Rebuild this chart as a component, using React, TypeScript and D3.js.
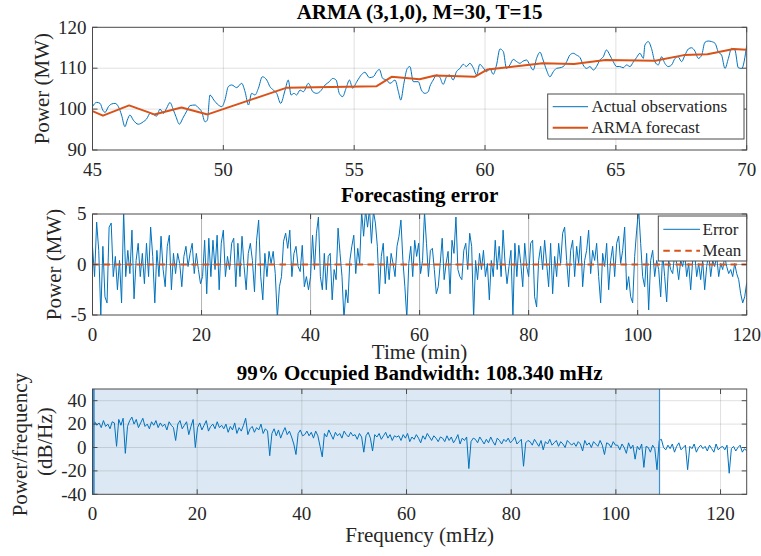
import React from 'react';
import * as d3 from 'd3';

const W = 761, H = 556;
const FONT = '"Liberation Serif","Times New Roman",Times,serif';
const BLUE = '#0072BD';
const ORANGE = '#D95319';
const TXT = '#262626';

// ---------- Panel 1: actual observations vs ARMA forecast ----------
const topTimes = [45.0,45.16,45.29,45.39,45.48,45.61,45.73,45.86,45.99,46.11,46.24,46.33,46.43,46.56,46.75,46.94,47.07,47.20,47.32,47.45,47.58,47.71,47.83,47.96,48.09,48.19,48.32,48.45,48.60,48.73,48.92,49.04,49.17,49.30,49.39,49.49,49.64,49.81,49.94,50.06,50.19,50.32,50.51,50.70,50.83,50.96,51.08,51.21,51.34,51.49,51.66,51.78,51.91,52.04,52.19,52.36,52.48,52.59,52.70,52.80,52.93,53.06,53.25,53.42,53.57,53.69,53.89,54.05,54.18,54.31,54.43,54.56,54.69,54.82,54.94,55.10,55.29,55.41,55.58,55.73,55.86,55.96,56.09,56.24,56.37,56.56,56.69,56.78,56.90,57.03,57.13,57.26,
57.45,57.57,57.70,57.83,57.89,58.02,58.15,58.28,58.40,58.53,58.66,58.78,58.91,59.04,59.17,59.29,59.42,59.55,59.68,59.80,59.93,60.06,60.19,60.31,60.44,60.57,60.70,60.82,60.95,61.08,61.21,61.33,61.46,61.59,61.71,61.84,61.97,62.10,62.22,62.35,62.48,62.61,62.73,62.86,62.99,63.12,63.24,63.37,63.50,63.63,63.75,63.88,64.01,64.14,64.26,64.39,64.52,64.64,64.77,64.90,65.03,65.15,65.28,65.41,65.54,65.66,65.79,65.92,66.05,66.11,66.24,66.36,66.49,66.62,66.75,66.87,67.00,67.13,67.26,67.38,67.51,67.64,67.77,67.89,68.02,68.15,68.28,68.40,68.53,68.66,68.79,68.91,69.04,69.17,69.30,69.42,69.55,69.68,69.81,70.0];
const topPower = [100.6,101.65,101.4,99.8,99.2,100.6,101.25,101.4,100.6,98.55,95.7,97.3,98.55,97.3,96.3,96.9,97.6,98.95,98.7,98.3,100.0,98.95,100.2,101.6,99.8,98.15,96.3,97.75,99.5,100.85,101.0,100.35,99.4,96.9,97.3,103.45,102.2,101.0,100.6,102.2,105.5,105.9,105.25,106.3,104.25,101.0,103.85,103.45,105.1,107.9,107.1,105.5,104.65,103.85,101.4,104.65,107.1,103.45,103.85,103.45,104.65,104.25,106.3,104.25,103.85,104.25,105.9,106.7,107.5,107.1,103.85,103.05,105.1,107.1,105.1,106.7,108.5,109.0,107.7,107.9,109.15,109.7,107.5,107.1,106.3,107.1,104.25,102.2,106.3,109.95,110.4,106.7,
106.7,104.65,103.85,104.25,105.5,107.1,108.35,107.7,106.05,107.9,108.35,107.1,109.15,109.95,110.95,110.4,111.2,110.1,108.35,110.95,110.1,109.15,109.95,108.5,110.8,114.7,114.05,109.95,110.8,112.15,111.6,111.2,111.75,112.0,110.8,109.55,112.4,113.9,112.0,109.55,107.9,109.15,109.95,110.1,110.4,111.6,113.2,113.65,113.2,112.6,110.8,109.95,110.4,109.55,110.4,112.0,112.8,114.45,113.2,111.6,110.4,110.4,110.1,110.8,110.4,111.45,112.6,113.65,112.4,115.65,116.5,114.85,111.6,110.8,112.8,111.2,110.4,110.8,112.4,112.8,111.6,113.2,114.7,115.0,114.2,112.4,113.2,116.3,116.65,116.5,116.1,114.05,113.2,109.95,112.4,114.85,114.45,110.1,109.95,115.6];

const forecastTimes = [45, 45.4, 46.4, 47.36, 48.4, 49.4, 52.4, 55.86, 56.43, 57.5, 58.1, 59.6, 60.1, 62.2, 63.4, 64.6, 66.5, 67.6, 68.5, 69.5, 70];
const forecastPower = [99.5, 98.4, 100.9, 98.7, 100.4, 98.7, 105.2, 105.6, 107.9, 107.3, 108.2, 107.9, 109.7, 111.2, 111.0, 112.0, 111.8, 113.2, 113.4, 114.7, 114.5];

const topXTicks = [45, 50, 55, 60, 65, 70];
const topYTicks = [90, 100, 110, 120];

// ---------- Panel 2: forecasting error ----------
const errorSeg1 = [1.8,-1.2,4.2,1.4,-5.0,1.8,-3.2,-3.8,3.7,4.1,-1.2,0.8,-2.5,0.4,-3.8,5.3,-1.2,1.4,-0.9,3.4,-3.4,0.4,2.1,-1.2,1.1,-1.9,2.1,-1.2,3.7,0.8,-3.8,1.4,-1.2,2.8,-0.5,-2.2,1.8,2.9,-2.5,1.1,-0.9,1.1,0.1,-2.2,0.8,1.8,-0.2,1.1,2.1,-0.9,1.1,-0.5,-1.9,-1.2,2.4,-2.9,2.6,-1.2,2.4,-0.5,2.9,-2.5,2.1,3.4,-1.2,0.8,-0.5,2.1,2.6,-2.2,2.1,-1.2,2.8,-0.2,-2.5,1.1,2.1,0.4,-2.7,2.4,4.4,-1.2,-3.5,1.1,-1.2,1.3,0.1,1.3,-0.9,-5.3,-2.2,-1.2,2.3,3.1,1.6,3.4,-1.2,1.1,1.8,-0.2,-0.7,1.9,-2.2,-1.2,-2.5];
const errorSeg2 = [-1.2,2.9,-0.5,3.1,4.7,-1.2,-2.5,1.1,-2.5,0.8,1.1,-3.5,-0.5,-1.5,3.6,1.1,-1.2,-5.4,-2.5,-3.8,0.4,1.8,2.9,-0.9,1.6,0.1,5.3,2.8,5.4,3.7,5.5,2.1,5.3,4.1,1.8,-2.9,0.8,2.1,-1.9,0.8,-1.5,1.1,0.1,-1.2,1.8,2.8,4.4,0.4,-2.2,-5.3,0.1,1.8,-1.2,2.4,0.8,2.1,-0.9,0.4,5.2,2.1,-1.2,1.4,1.6,-0.5,-2.9,-2.2,0.1,2.6,-1.5,0.1,1.3,-2.9,2.4,1.1,4.7,-0.5,-1.2,-1.5,1.4,2.1,-0.5,3.1,1.8,-5.3,0.4,-1.5,1.1,-0.5,1.4,-1.2,0.1,-3.5,0.4,-1.2,2.4,-0.5,1.8,-1.2,3.4,0.1,-1.9,-0.2,1.4,-5.2,2.1,-1.2,1.9,0.1,-2.2,2.1,-0.2];
const errorSeg3 = [-1.2,2.1,2.4,-3.2,-4.2,0.4,1.8,-0.5,2.4,0.1,-2.2,2.1,-2.9,0.8,-1.2,2.1,0.1,3.1,3.7,0.4,-2.2,1.4,2.4,-1.2,1.8,0.1,2.8,-2.2,0.4,1.4,3.4,-0.9,1.4,0.4,2.1,-1.2,-3.8,1.1,-0.2,2.1,-2.5,0.4,1.8,-1.2,2.1,2.8,0.1,1.4,3.7,-2.5,-1.2,-3.2,-3.8,0.8,3.4,5.5,2.1,-1.2,-2.2,1.1,-4.5,0.4,1.4,-1.2,0.4,-0.5,-3.2,1.1,-1.2,-3.7,0.4,-0.5,-0.9,1.1,0.1,-1.5,0.4,-0.2,1.1,-1.2,0.1,-2.5,0.4,1.1,-1.2,0.1,-1.5,0.4,-2.5,-0.2,1.1,-1.2,0.4,-0.2,0.8,-1.2,0.1,-0.5,0.8,-0.2,-0.9,-0.5,-1.2,0.1,-0.9,-1.5,-2.9,-3.8,-3.2,-1.8];
const errorSegStarts = [0, 40, 80];
const errorSegEnds = [40, 80, 120];
const errorMean = 0;
const midXTicks = [0, 20, 40, 60, 80, 100, 120];
const midYTicks = [-5, 0, 5];

// ---------- Panel 3: occupied bandwidth PSD ----------
const psdValues = [
14,22,19,21,17,23,18,20,16,22,21,1,24,19,25,-5,18,23,26,20,
24,17,21,25,18,20,16,22,19,23,17,21,18,20,15,22,19,17,6,20,
23,16,19,22,11,18,24,0,17,21,15,19,23,14,18,20,16,22,17,19,
16,20,13,18,15,21,12,17,14,19,25,11,16,18,13,17,15,20,12,16,
14,-7,12,16,10,15,8,13,17,11,14,9,3,-6,12,15,10,11,14,10,
13,8,14,10,1,-8,12,9,15,11,7,13,10,12,8,14,11,9,13,10,
11,7,12,9,-4,10,13,8,-3,11,9,12,7,10,13,8,11,6,10,9,
10,6,11,8,12,5,9,7,11,8,4,10,7,12,9,6,10,8,5,9,
8,5,10,6,9,4,7,11,3,8,6,9,-18,5,8,7,4,9,6,3,
7,4,9,5,2,8,6,3,7,5,8,4,6,9,3,5,7,-16,4,6,
5,2,7,4,1,6,-2,5,3,7,2,4,6,1,5,3,0,6,4,2,
4,1,5,3,-3,6,2,4,0,5,3,1,6,2,-6,4,3,0,5,2,
2,-2,3,0,-5,4,-1,2,-10,1,-2,3,-17,1,0,-4,2,-1,-19,6,
7,0,-2,2,-1,3,-4,1,4,-2,0,2,-19,1,-1,3,-4,0,2,-1,
1,-3,2,-1,-4,3,-2,0,1,-2,2,-22,-1,1,-3,0,2,-4,-1,-3];
const psdFreqMax = 125;
const obwLow = 0;
const obwHigh = 108.34;
const botXTicks = [0, 20, 40, 60, 80, 100, 120];
const botYTicks = [-40, -20, 0, 20, 40];
const botGridY = [-20, 0, 20, 40];

// ---------- layout ----------
const L = 92.5, R = 746.7;
const P1 = { top: 27.3, bottom: 150 };
const P2 = { top: 214, bottom: 315 };
const P3 = { top: 389, bottom: 494.3 };

const TICK = 19, LAB = 21, LEG = 17;

function Frame({ x, y, gridX, gridY, gridColor, gridOpacity }: any) {
  const [y0, y1] = y.range();
  const top = Math.min(y0, y1), bottom = Math.max(y0, y1);
  return (
    <g>
      {gridX.map((v: number) => (
        <line key={'gx' + v} x1={x(v)} x2={x(v)} y1={top} y2={bottom} stroke={gridColor} strokeOpacity={gridOpacity} strokeWidth={1} />
      ))}
      {gridY.map((v: number) => (
        <line key={'gy' + v} x1={L} x2={R} y1={y(v)} y2={y(v)} stroke={gridColor} strokeOpacity={gridOpacity} strokeWidth={1} />
      ))}
    </g>
  );
}

function Box({ x, y, xTicks, yTicks }: any) {
  const [y0, y1] = y.range();
  const top = Math.min(y0, y1), bottom = Math.max(y0, y1);
  const tl = 5;
  return (
    <g>
      <rect x={L} y={top} width={R - L} height={bottom - top} fill="none" stroke="#4a4a4a" strokeWidth={1} />
      {xTicks.map((v: number) => (
        <g key={'xt' + v}>
          <line x1={x(v)} x2={x(v)} y1={bottom} y2={bottom - tl} stroke="#4a4a4a" />
          <line x1={x(v)} x2={x(v)} y1={top} y2={top + tl} stroke="#4a4a4a" />
          <text x={x(v)} y={bottom + 26} textAnchor="middle" fontSize={TICK} fill={TXT} fontFamily={FONT}>{v}</text>
        </g>
      ))}
      {yTicks.map((v: number) => (
        <g key={'yt' + v}>
          <line x1={L} x2={L + tl} y1={y(v)} y2={y(v)} stroke="#4a4a4a" />
          <line x1={R} x2={R - tl} y1={y(v)} y2={y(v)} stroke="#4a4a4a" />
          <text x={L - 6} y={y(v)} dy="0.33em" textAnchor="end" fontSize={TICK} fill={TXT} fontFamily={FONT}>{v}</text>
        </g>
      ))}
    </g>
  );
}

export default function App() {
  const x1 = d3.scaleLinear().domain([45, 70]).range([L, R]);
  const y1 = d3.scaleLinear().domain([90, 120]).range([P1.bottom, P1.top]);
  const x2 = d3.scaleLinear().domain([0, 120]).range([L, R]);
  const y2 = d3.scaleLinear().domain([-5, 5]).range([P2.bottom, P2.top]);
  const x3 = d3.scaleLinear().domain([0, psdFreqMax]).range([L, R]);
  const y3 = d3.scaleLinear().domain([-40, 50]).range([P3.bottom, P3.top]);

  const actual = topTimes.map((t, i) => [t, topPower[i]] as [number, number]);
  const forecast = forecastTimes.map((t, i) => [t, forecastPower[i]] as [number, number]);

  const segs = [errorSeg1, errorSeg2, errorSeg3];
  const errorPts: [number, number][] = [];
  segs.forEach((seg, k) => {
    const n = seg.length;
    const last = k === segs.length - 1;
    const step = (errorSegEnds[k] - errorSegStarts[k]) / (last ? n - 1 : n);
    seg.forEach((v, i) => errorPts.push([errorSegStarts[k] + i * step, v]));
  });

  const psdPts = psdValues.map((v, i) => [i * psdFreqMax / (psdValues.length - 1), v] as [number, number]);

  const lineActual = d3.line<[number, number]>().x(d => x1(d[0])).y(d => y1(d[1])).curve(d3.curveMonotoneX);
  const lineForecast = d3.line<[number, number]>().x(d => x1(d[0])).y(d => y1(d[1]));
  const lineErr = d3.line<[number, number]>().x(d => x2(d[0])).y(d => y2(d[1]));
  const linePsd = d3.line<[number, number]>().x(d => x3(d[0])).y(d => y3(d[1]));

  const cx = (L + R) / 2;

  return (
    <svg width={W} height={H} viewBox={`0 0 ${W} ${H}`} style={{ position: 'absolute', left: 0, top: 0, background: '#fff' }}>
      <defs>
        <clipPath id="c1"><rect x={L} y={P1.top} width={R - L} height={P1.bottom - P1.top} /></clipPath>
        <clipPath id="c2"><rect x={L} y={P2.top} width={R - L} height={P2.bottom - P2.top} /></clipPath>
        <clipPath id="c3"><rect x={L} y={P3.top} width={R - L} height={P3.bottom - P3.top} /></clipPath>
      </defs>
      <rect x={0} y={0} width={W} height={H} fill="#fff" />

      {/* ===== Panel 1 ===== */}
      <Frame x={x1} y={y1} gridX={[50, 55, 60, 65]} gridY={[100, 110]} gridColor="#000" gridOpacity={0.12} />
      <g clipPath="url(#c1)">
        <path d={lineActual(actual) || ''} fill="none" stroke={BLUE} strokeWidth={1} />
        <path d={lineForecast(forecast) || ''} fill="none" stroke={ORANGE} strokeWidth={2} strokeLinejoin="round" />
      </g>
      <Box x={x1} y={y1} xTicks={topXTicks} yTicks={topYTicks} />
      <text x={cx} y={19} textAnchor="middle" fontSize={LAB} fontWeight="bold" fill="#000" fontFamily={FONT}>ARMA (3,1,0), M=30, T=15</text>
      <text transform={`translate(42.5,${(P1.top + P1.bottom) / 2}) rotate(-90)`} dy="0.32em" textAnchor="middle" fontSize={LAB} fill={TXT} fontFamily={FONT}>Power (MW)</text>
      <g>
        <rect x={547.7} y={94} width={196.3} height={45} fill="#fff" stroke="#4a4a4a" strokeWidth={1} />
        <line x1={552.7} x2={588} y1={106.7} y2={106.7} stroke={BLUE} strokeWidth={1} />
        <text x={591.5} y={106.7} dy="0.33em" fontSize={LEG} fill={TXT} fontFamily={FONT}>Actual observations</text>
        <line x1={552.7} x2={588} y1={127.7} y2={127.7} stroke={ORANGE} strokeWidth={2} />
        <text x={591.5} y={127.7} dy="0.33em" fontSize={LEG} fill={TXT} fontFamily={FONT}>ARMA forecast</text>
      </g>

      {/* ===== Panel 2 ===== */}
      <Frame x={x2} y={y2} gridX={[20, 40, 60, 80, 100]} gridY={[0]} gridColor="#000" gridOpacity={0.3} />
      <g clipPath="url(#c2)">
        <path d={lineErr(errorPts) || ''} fill="none" stroke={BLUE} strokeWidth={1} strokeLinejoin="round" />
        <line x1={L} x2={R} y1={y2(errorMean)} y2={y2(errorMean)} stroke={ORANGE} strokeWidth={2} strokeDasharray="6.5,4.5" />
      </g>
      <Box x={x2} y={y2} xTicks={midXTicks} yTicks={midYTicks} />
      <text x={cx} y={202} textAnchor="middle" fontSize={LAB} fontWeight="bold" fill="#000" fontFamily={FONT}>Forecasting error</text>
      <text transform={`translate(54,${(P2.top + P2.bottom) / 2}) rotate(-90)`} dy="0.32em" textAnchor="middle" fontSize={LAB} fill={TXT} fontFamily={FONT}>Power (MW)</text>
      <text x={cx} y={358.5} textAnchor="middle" fontSize={LAB} fill={TXT} fontFamily={FONT}>Time (min)</text>
      <g>
        <rect x={658.3} y={216} width={88.4} height={45} fill="#fff" stroke="#4a4a4a" strokeWidth={1} />
        <line x1={663.3} x2={700} y1={229.3} y2={229.3} stroke={BLUE} strokeWidth={1} />
        <text x={702.5} y={229.3} dy="0.33em" fontSize={LEG} fill={TXT} fontFamily={FONT}>Error</text>
        <line x1={663.3} x2={700} y1={250.7} y2={250.7} stroke={ORANGE} strokeWidth={2} strokeDasharray="6.5,4.5" />
        <text x={702.5} y={250.7} dy="0.33em" fontSize={LEG} fill={TXT} fontFamily={FONT}>Mean</text>
      </g>

      {/* ===== Panel 3 ===== */}
      <rect x={x3(obwLow)} y={P3.top} width={x3(obwHigh) - x3(obwLow)} height={P3.bottom - P3.top} fill="#dce9f4" />
      <Frame x={x3} y={y3} gridX={[20, 40, 60, 80, 100, 120]} gridY={botGridY} gridColor="#000" gridOpacity={0.12} />
      <g clipPath="url(#c3)">
        <path d={linePsd(psdPts) || ''} fill="none" stroke={BLUE} strokeWidth={1} strokeLinejoin="round" />
      </g>
      <line x1={x3(obwLow) + 1} x2={x3(obwLow) + 1} y1={P3.top} y2={P3.bottom} stroke="#3d8fd1" strokeWidth={2.5} />
      <line x1={x3(obwHigh)} x2={x3(obwHigh)} y1={P3.top} y2={P3.bottom} stroke="#3d8fd1" strokeWidth={1.2} />
      <Box x={x3} y={y3} xTicks={botXTicks} yTicks={botYTicks} />
      <text x={cx} y={380} textAnchor="middle" fontSize={LAB} fontWeight="bold" fill="#000" fontFamily={FONT}>99% Occupied Bandwidth: 108.340 mHz</text>
      <text transform={`translate(20,${(P3.top + P3.bottom) / 2 + 3}) rotate(-90)`} dy="0.32em" textAnchor="middle" fontSize={LAB} fill={TXT} fontFamily={FONT}>Power/frequency</text>
      <text transform={`translate(45,${(P3.top + P3.bottom) / 2}) rotate(-90)`} dy="0.32em" textAnchor="middle" fontSize={LAB} fill={TXT} fontFamily={FONT}>(dB/Hz)</text>
      <text x={cx} y={542} textAnchor="middle" fontSize={LAB} fill={TXT} fontFamily={FONT}>Frequency (mHz)</text>
    </svg>
  );
}
